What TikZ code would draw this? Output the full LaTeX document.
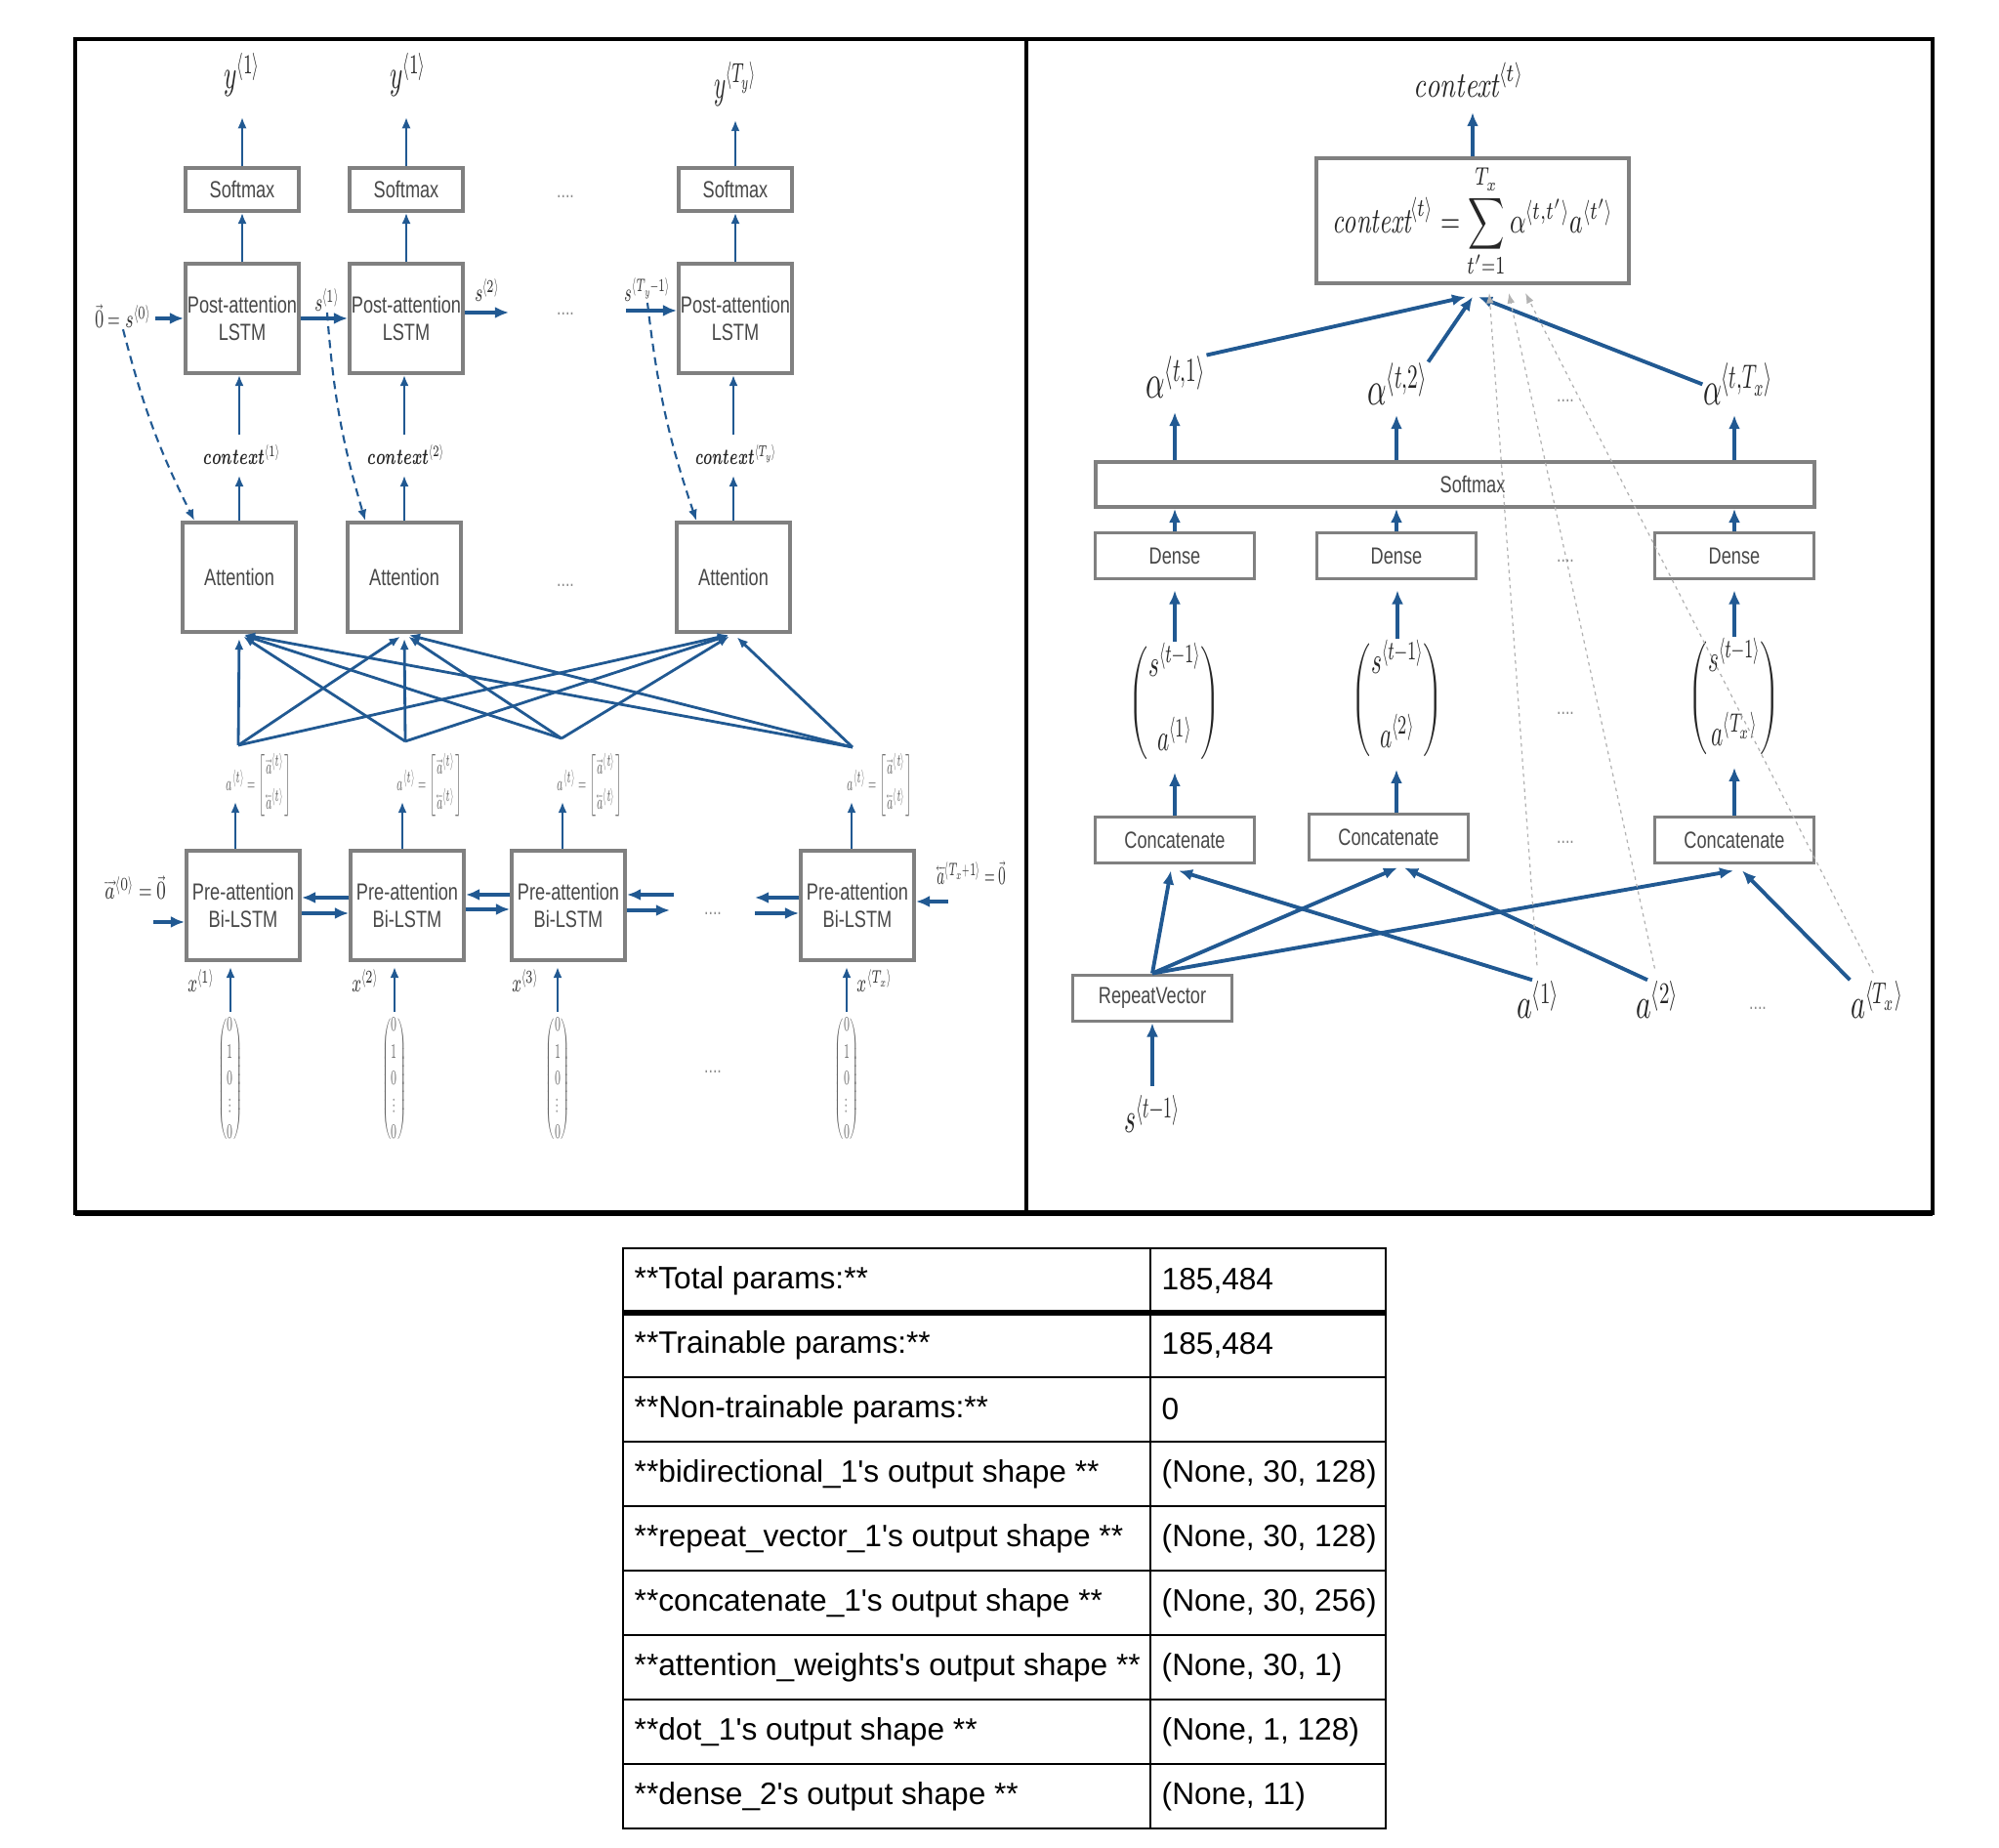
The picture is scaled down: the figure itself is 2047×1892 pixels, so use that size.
\documentclass[tikz,border=0pt]{standalone}
\usepackage{amsmath}
\usepackage{graphicx}
\usepackage{fontspec}
\usepackage{unicode-math}
\newfontfamily\narrowsf[FakeStretch=0.76]{Liberation Sans}
\newfontfamily\tablesf{Liberation Sans}
\usetikzlibrary{arrows.meta}
\definecolor{flowblue}{RGB}{33,89,146}
\definecolor{boxgray}{RGB}{128,128,128}
\definecolor{labelgray}{RGB}{72,72,72}
\newcommand{\ang}[1]{\langle #1\rangle}
\newcommand{\squeeze}[2]{\scalebox{#1}[1]{#2}}

\begin{document}
\begin{tikzpicture}[x=0.01cm,y=-0.01cm,
	box/.style={draw=boxgray,line width=1.1pt,fill=white,inner sep=0pt,align=center,text=labelgray,font=\narrowsf\fontsize{6.8}{8.2}\selectfont},
	smbox/.style={box,minimum width=1.16cm,minimum height=0.44cm},
	cellbox/.style={box,minimum width=1.16cm,minimum height=1.12cm},
	layerbox/.style={box,minimum width=1.63cm,minimum height=0.47cm},
	flow/.style={->,>={Latex[length=3.2pt,width=2.6pt]},draw=flowblue,line width=0.6pt},
	bigflow/.style={->,>={Latex[length=4pt,width=3.4pt]},draw=flowblue,line width=1.1pt},
	dashflow/.style={flow,dash pattern=on 2.4pt off 1.6pt},
	faint/.style={->,>={Latex[length=3pt,width=2.2pt]},draw=black!30,line width=0.35pt,dash pattern=on 1pt off 1.2pt},
	biglbl/.style={inner sep=0pt,text=black!85,font=\fontsize{12.5}{14}\selectfont},
	midlbl/.style={inner sep=0pt,text=black!85,font=\fontsize{10.5}{12}\selectfont},
	smlbl/.style={inner sep=0pt,text=black!80,font=\fontsize{7.5}{9}\selectfont},
	tinylbl/.style={inner sep=0pt,text=black!60,font=\fontsize{6}{7.8}\selectfont},
	dots/.style={inner sep=0pt,text=black!45,font=\narrowsf\fontsize{6}{7}\selectfont},
	cell/.style={inner sep=0pt,anchor=west,font=\tablesf\fontsize{9}{11}\selectfont}
]
	\useasboundingbox (0,0) rectangle (2047,1892);
	% frames
	\draw[line width=0.9pt] (77,40) rectangle (1979,1242);
	\draw[line width=0.9pt] (1051,40) -- (1051,1242);
	\draw[line width=1.6pt] (77,1242) -- (1979,1242);

	% left: decoder
	\node[smbox] (sm1) at (248,194) {Softmax};
	\node[smbox] (sm2) at (416,194) {Softmax};
	\node[smbox] (sm3) at (753,194) {Softmax};
	\node[cellbox] (post1) at (248,326) {Post-attention\\LSTM};
	\node[cellbox] (post2) at (416,326) {Post-attention\\LSTM};
	\node[cellbox] (post3) at (753,326) {Post-attention\\LSTM};
	\node[cellbox] (att1) at (245,591) {Attention};
	\node[cellbox] (att2) at (414,591) {Attention};
	\node[cellbox] (att3) at (751,591) {Attention};
	\node[biglbl,anchor=south,font=\fontsize{12}{14}\selectfont] (y1) at (248,100) {\squeeze{0.6}{$y^{\ang{1}}$}};
	\node[biglbl,anchor=south,font=\fontsize{12}{14}\selectfont] (y2) at (418,100) {\squeeze{0.6}{$y^{\ang{1}}$}};
	\node[biglbl,anchor=south,font=\fontsize{12}{14}\selectfont] (y3) at (753,110) {\squeeze{0.55}{$y^{\ang{T_y}}$}};
	\node[tinylbl,anchor=base,text=black!85,font=\fontsize{6.5}{8}\selectfont] (ctx1) at (248,476) {\squeeze{0.62}{$\symbfit{context}^{\ang{1}}$}};
	\node[tinylbl,anchor=base,text=black!85,font=\fontsize{6.5}{8}\selectfont] (ctx2) at (416,476) {\squeeze{0.62}{$\symbfit{context}^{\ang{2}}$}};
	\node[tinylbl,anchor=base,text=black!85,font=\fontsize{6.5}{8}\selectfont] (ctx3) at (754,476) {\squeeze{0.6}{$\symbfit{context}^{\ang{T_y}}$}};
	\draw[flow] (sm1.north) -- (sm1.north |- y1.south) [shorten >=0.2cm];
	\draw[flow] (sm2.north) -- (sm2.north |- y2.south) [shorten >=0.2cm];
	\draw[flow] (sm3.north) -- (sm3.north |- y3.south) [shorten >=0.13cm];
	\draw[flow] (post1.north) -- (sm1.south);
	\draw[flow] (post2.north) -- (sm2.south);
	\draw[flow] (post3.north) -- (sm3.south);
	\draw[flow] (att1.north) -- (att1.north |- ctx1.south) [shorten >=0.1cm];
	\draw[flow] (att2.north) -- (att2.north |- ctx2.south) [shorten >=0.1cm];
	\draw[flow] (att3.north) -- (att3.north |- ctx3.south) [shorten >=0.1cm];
	\draw[flow] (att1.north |- ctx1.north) -- (att1.north |- post1.south) [shorten <=0.1cm];
	\draw[flow] (att2.north |- ctx2.north) -- (att2.north |- post2.south) [shorten <=0.1cm];
	\draw[flow] (att3.north |- ctx3.north) -- (att3.north |- post3.south) [shorten <=0.1cm];
	% decoder states
	\node[smlbl,anchor=base] (s0) at (126,336) {\squeeze{0.62}{$\vec{0}=s^{\ang{0}}$}};
	\node[smlbl,anchor=base] (s1) at (335,319) {\squeeze{0.6}{$s^{\ang{1}}$}};
	\node[smlbl,anchor=base] (s2) at (499,309) {\squeeze{0.6}{$s^{\ang{2}}$}};
	\node[smlbl,anchor=base] (sT) at (663,309) {\squeeze{0.55}{$s^{\ang{T_y-1}}$}};
	\coordinate (s2end) at (521,320);
	\coordinate (sTbeg) at (641,318);
	\draw[bigflow,line width=0.9pt] (s0.east |- post1.west) -- (post1.west) [shorten <=0.03cm];
	\draw[bigflow,line width=0.9pt] (post1.east) -- (post2.west);
	\draw[bigflow,line width=0.9pt] (s2end -| post2.east) -- (s2end);
	\draw[bigflow,line width=0.9pt] (sTbeg) -- (sTbeg -| post3.west);
	\draw[dashflow] (s0.south) to[bend right=6] ([xshift=0.14cm]att1.north west);
	\draw[dashflow] (s1.south) to[bend right=6] ([xshift=0.2cm]att2.north west);
	\draw[dashflow] (sT.south) to[bend right=6] ([xshift=0.22cm]att3.north west);
	% encoder
	\node[cellbox] (pre1) at (249,927) {Pre-attention\\Bi-LSTM};
	\node[cellbox] (pre2) at (417,927) {Pre-attention\\Bi-LSTM};
	\node[cellbox] (pre3) at (582,927) {Pre-attention\\Bi-LSTM};
	\node[cellbox] (pre4) at (878,927) {Pre-attention\\Bi-LSTM};
	\coordinate (f1) at (244,763);
	\coordinate (f2) at (415,759);
	\coordinate (f3) at (575,756);
	\coordinate (f4) at (873,765);
	\foreach \f in {f1,f2,f3,f4}
		\foreach \a in {att1,att2,att3}
			\draw[flow,line width=0.8pt] (\f) -- (\a.south) [shorten >=0.05cm];
	\node[tinylbl] (av1) at (265,804) {\squeeze{0.5}{$a^{\ang{t}}=\begin{bmatrix}\overrightarrow{a}^{\ang{t}}\\[2pt]\overleftarrow{a}^{\ang{t}}\end{bmatrix}$}};
	\node[tinylbl] (av2) at (440,804) {\squeeze{0.5}{$a^{\ang{t}}=\begin{bmatrix}\overrightarrow{a}^{\ang{t}}\\[2pt]\overleftarrow{a}^{\ang{t}}\end{bmatrix}$}};
	\node[tinylbl] (av3) at (604,804) {\squeeze{0.5}{$a^{\ang{t}}=\begin{bmatrix}\overrightarrow{a}^{\ang{t}}\\[2pt]\overleftarrow{a}^{\ang{t}}\end{bmatrix}$}};
	\node[tinylbl] (av4) at (901,804) {\squeeze{0.5}{$a^{\ang{t}}=\begin{bmatrix}\overrightarrow{a}^{\ang{t}}\\[2pt]\overleftarrow{a}^{\ang{t}}\end{bmatrix}$}};
	\coordinate (at1) at (241,821);
	\coordinate (at2) at (412,821);
	\coordinate (at3) at (576,821);
	\coordinate (at4) at (872,821);
	\draw[flow] (at1 |- pre1.north) -- (at1);
	\draw[flow] (at2 |- pre2.north) -- (at2);
	\draw[flow] (at3 |- pre3.north) -- (at3);
	\draw[flow] (at4 |- pre4.north) -- (at4);
	\node[smlbl,anchor=base] (a0) at (139,921) {\squeeze{0.66}{$\overrightarrow{a}^{\ang{0}}=\vec{0}$}};
	\node[smlbl,anchor=base] (aTx) at (995,906) {\squeeze{0.52}{$\overleftarrow{a}^{\ang{T_x+1}}=\vec{0}$}};
	\coordinate (a0in) at (157,944);
	\coordinate (r3a) at (690,916);
	\coordinate (r3b) at (686,932);
	\coordinate (l4a) at (773,919);
	\coordinate (l4b) at (773,935);
	\coordinate (r4) at (971,923);
	\draw[bigflow,line width=0.9pt] (a0in) -- (a0in -| pre1.west);
	\draw[bigflow,line width=0.9pt] ([yshift=0.08cm]pre2.west) -- ([yshift=0.08cm]pre1.east);
	\draw[bigflow,line width=0.9pt] ([yshift=-0.08cm]pre1.east) -- ([yshift=-0.08cm]pre2.west);
	\draw[bigflow,line width=0.9pt] ([yshift=0.11cm]pre3.west) -- ([yshift=0.11cm]pre2.east);
	\draw[bigflow,line width=0.9pt] ([yshift=-0.04cm]pre2.east) -- ([yshift=-0.04cm]pre3.west);
	\draw[bigflow,line width=0.9pt] (r3a) -- (r3a -| pre3.east);
	\draw[bigflow,line width=0.9pt] (r3b -| pre3.east) -- (r3b);
	\draw[bigflow,line width=0.9pt] (l4a -| pre4.west) -- (l4a);
	\draw[bigflow,line width=0.9pt] (l4b) -- (l4b -| pre4.west);
	\draw[bigflow,line width=0.9pt] (r4) -- (r4 -| pre4.east);
	\node[smlbl,anchor=base] (x1) at (206,1016) {\squeeze{0.6}{$x^{\ang{1}}$}};
	\node[smlbl,anchor=base] (x2) at (374,1016) {\squeeze{0.6}{$x^{\ang{2}}$}};
	\node[smlbl,anchor=base] (x3) at (538,1016) {\squeeze{0.6}{$x^{\ang{3}}$}};
	\node[smlbl,anchor=base] (x4) at (896,1016) {\squeeze{0.6}{$x^{\ang{T_x}}$}};
	\node[tinylbl] (oh1) at (236,1105) {\squeeze{0.5}{$\begin{pmatrix}0\\1\\0\\\vdots\\0\end{pmatrix}$}};
	\node[tinylbl] (oh2) at (404,1105) {\squeeze{0.5}{$\begin{pmatrix}0\\1\\0\\\vdots\\0\end{pmatrix}$}};
	\node[tinylbl] (oh3) at (571,1105) {\squeeze{0.5}{$\begin{pmatrix}0\\1\\0\\\vdots\\0\end{pmatrix}$}};
	\node[tinylbl] (oh4) at (867,1105) {\squeeze{0.5}{$\begin{pmatrix}0\\1\\0\\\vdots\\0\end{pmatrix}$}};
	\draw[flow] (oh1.north) -- (oh1.north |- pre1.south) [shorten >=0.05cm];
	\draw[flow] (oh2.north) -- (oh2.north |- pre2.south) [shorten >=0.05cm];
	\draw[flow] (oh3.north) -- (oh3.north |- pre3.south) [shorten >=0.05cm];
	\draw[flow] (oh4.north) -- (oh4.north |- pre4.south) [shorten >=0.05cm];
	\node[dots] (ldot1) at (579,201) {....};
	\node[dots] (ldot2) at (579,321) {....};
	\node[dots] (ldot3) at (579,599) {....};
	\node[dots] (ldot4) at (730,935) {....};
	\node[dots] (ldot5) at (730,1097) {....};

	% right: one attention step
	\node[midlbl,anchor=base] (ctop) at (1504,100) {\squeeze{0.76}{$\mathit{context}^{\ang{t}}$}};
	\node[box,minimum width=3.19cm,minimum height=1.28cm,text=black!85,font=\fontsize{10.5}{12}\selectfont] (fbox) at (1508,226)
		{\squeeze{0.7}{$\mathit{context}^{\ang{t}}=\displaystyle\sum_{t'=1}^{T_x}\alpha^{\ang{t,t'}}a^{\ang{t'}}$}};
	\draw[bigflow] (fbox.north) -- (fbox.north |- ctop.south) [shorten >=0.14cm];
	\node[biglbl,anchor=base,font=\fontsize{14}{16}\selectfont] (al1) at (1204,408) {\squeeze{0.62}{$\alpha^{\ang{t,1}}$}};
	\node[biglbl,anchor=base,font=\fontsize{14}{16}\selectfont] (al2) at (1431,415) {\squeeze{0.62}{$\alpha^{\ang{t,2}}$}};
	\node[biglbl,anchor=base,font=\fontsize{14}{16}\selectfont] (al3) at (1780,415) {\squeeze{0.6}{$\alpha^{\ang{t,T_x}}$}};
	\draw[bigflow] (al1.north east) -- ([xshift=-0.07cm,yshift=-0.12cm]fbox.south);
	\draw[bigflow] (al2.north east) -- ([yshift=-0.12cm]fbox.south);
	\draw[bigflow] (al3.west) -- ([xshift=0.06cm,yshift=-0.12cm]fbox.south);
	\node[box,minimum width=7.36cm,minimum height=0.46cm] (smx) at (1490,496) {\hspace*{0.36cm}Softmax};
	\node[layerbox] (d1) at (1203,569) {Dense};
	\node[layerbox] (d2) at (1430,569) {Dense};
	\node[layerbox] (d3) at (1776,569) {Dense};
	\draw[bigflow] (smx.north -| d1) -- (d1 |- al1.base) [shorten >=0.14cm];
	\draw[bigflow] (smx.north -| d2) -- (d2 |- al2.base) [shorten >=0.1cm];
	\draw[bigflow] (smx.north -| d3) -- (d3 |- al3.base) [shorten >=0.1cm];
	\draw[bigflow] (d1.north) -- (d1.north |- smx.south);
	\draw[bigflow] (d2.north) -- (d2.north |- smx.south);
	\draw[bigflow] (d3.north) -- (d3.north |- smx.south);
	\node[midlbl,font=\fontsize{11}{13}\selectfont] (v1) at (1203,720) {\squeeze{0.6}{$\begin{pmatrix}s^{\ang{t-1}}\\[8pt]a^{\ang{1}}\end{pmatrix}$}};
	\node[midlbl,font=\fontsize{11}{13}\selectfont] (v2) at (1431,717) {\squeeze{0.6}{$\begin{pmatrix}s^{\ang{t-1}}\\[8pt]a^{\ang{2}}\end{pmatrix}$}};
	\node[midlbl,font=\fontsize{11}{13}\selectfont] (v3) at (1776,715) {\squeeze{0.6}{$\begin{pmatrix}s^{\ang{t-1}}\\[8pt]a^{\ang{T_x}}\end{pmatrix}$}};
	\draw[bigflow] (v1.north) -- (v1.north |- d1.south) [shorten >=0.1cm];
	\draw[bigflow] (v2.north) -- (v2.north |- d2.south) [shorten >=0.1cm];
	\draw[bigflow] (v3.north) -- (v3.north |- d3.south) [shorten >=0.1cm];
	\node[layerbox] (c1) at (1203,860) {Concatenate};
	\node[layerbox] (c2) at (1422,857) {Concatenate};
	\node[layerbox] (c3) at (1776,860) {Concatenate};
	\draw[bigflow] (d1 |- c1.north) -- (d1 |- v1.south) [shorten >=0.08cm];
	\draw[bigflow] (d2 |- c2.north) -- (d2 |- v2.south) [shorten >=0.08cm];
	\draw[bigflow] (d3 |- c3.north) -- (d3 |- v3.south) [shorten >=0.08cm];
	\node[layerbox] (rv) at (1180,1022) {RepeatVector};
	\node[biglbl,anchor=base] (sprev) at (1180,1160) {\squeeze{0.58}{$s^{\ang{t-1}}$}};
	\draw[bigflow] (sprev.north -| rv) -- (rv.south) [shorten <=0.08cm];
	\draw[bigflow] (rv.north) -- ([xshift=-0.04cm,yshift=-0.06cm]c1.south);
	\draw[bigflow] (rv.north) -- ([xshift=0.09cm,yshift=-0.06cm]c2.south);
	\draw[bigflow] (rv.north) -- ([xshift=-0.01cm,yshift=-0.06cm]c3.south);
	\node[biglbl,anchor=base] (a1) at (1575,1043) {\squeeze{0.68}{$a^{\ang{1}}$}};
	\node[biglbl,anchor=base] (a2) at (1697,1043) {\squeeze{0.68}{$a^{\ang{2}}$}};
	\node[biglbl,anchor=base] (aT) at (1922,1043) {\squeeze{0.65}{$a^{\ang{T_x}}$}};
	\draw[bigflow] ([xshift=-0.06cm]a1.north) -- ([xshift=0.04cm,yshift=-0.06cm]c1.south);
	\draw[bigflow] ([xshift=-0.1cm]a2.north) -- ([xshift=0.16cm,yshift=-0.06cm]c2.south);
	\draw[bigflow] (aT.north west) -- ([xshift=0.08cm,yshift=-0.06cm]c3.south);
	\draw[faint] (a1.north) -- ([xshift=0.17cm,yshift=-0.08cm]fbox.south) [shorten <=0.15cm];
	\draw[faint] (a2.north) -- ([xshift=0.37cm,yshift=-0.08cm]fbox.south) [shorten <=0.12cm];
	\draw[faint] (aT.north) -- ([xshift=0.54cm,yshift=-0.08cm]fbox.south) [shorten <=0.08cm];
	\node[dots] (rdot1) at (1603,410) {....};
	\node[dots] (rdot2) at (1603,574) {....};
	\node[dots] (rdot3) at (1603,730) {....};
	\node[dots] (rdot4) at (1603,862) {....};
	\node[dots] (rdot5) at (1800,1032) {....};

	% table of model summary
	\draw[line width=0.6pt] (638,1278) rectangle (1419,1872);
	\draw[line width=0.6pt] (1178,1278) -- (1178,1872);
	\foreach \r in {1,...,8}
		\draw[line width=0.6pt] (638,{1278+66*\r}) -- (1419,{1278+66*\r});
	\draw[line width=1.6pt] (638,1344) -- (1419,1344);
	\foreach \i/\k/\v in {1/{**Total params:**}/{185,484},
		2/{**Trainable params:**}/{185,484},
		3/{**Non-trainable params:**}/{0},
		4/{**bidirectional\_1\textquotesingle s output shape **}/{(None, 30, 128)},
		5/{**repeat\_vector\_1\textquotesingle s output shape **}/{(None, 30, 128)},
		6/{**concatenate\_1\textquotesingle s output shape **}/{(None, 30, 256)},
		7/{**attention\_weights\textquotesingle s output shape **}/{(None, 30, 1)},
		8/{**dot\_1\textquotesingle s output shape **}/{(None, 1, 128)},
		9/{**dense\_2\textquotesingle s output shape **}/{(None, 11)}}{
		\node[cell] (key\i) at (649,{1311+66*(\i-1)}) {\k};
		\node[cell] (val\i) at (1189,{1311+66*(\i-1)}) {\v};
	}
\end{tikzpicture}
\end{document}
